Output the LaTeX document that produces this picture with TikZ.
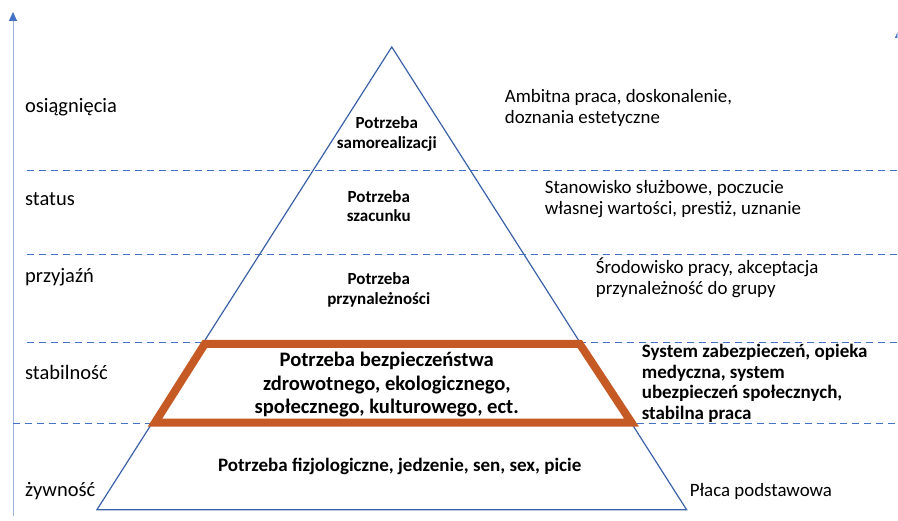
\documentclass[tikz,border=0pt]{standalone}
\usepackage{fontspec}
\setmainfont{Carlito}
\usetikzlibrary{arrows.meta}

\definecolor{pyrblue}{HTML}{4472C4}
\definecolor{axisblue}{HTML}{9DB5DD}
\definecolor{frameorange}{HTML}{C55A24}

\begin{document}
\begin{tikzpicture}[x=1pt, y=-1pt, every node/.style={font=\fontsize{18.9}{20.8}\selectfont, inner sep=0pt},
  level/.style={anchor=base west, font=\fontsize{20.5}{24}\selectfont},
  need/.style={align=center, font=\fontsize{17}{19.5}\selectfont\bfseries},
  note/.style={anchor=west, align=left},
  sep/.style={pyrblue, line width=1.1pt, dash pattern=on 7pt off 5pt},
  axistip/.style={-{Triangle[length=9pt, width=8pt, color=pyrblue, fill=pyrblue]}}]
	\begin{scope}
	\clip (0,0) rectangle (898,521);
	\useasboundingbox (0,0) rectangle (898,521);
	% axis
	\draw[axisblue, line width=0.9pt, axistip] (13,516) -- (13,12);
	\draw[axisblue, line width=0.9pt, axistip] (899.5,48) -- (899.5,29);
	\end{scope}
	% separating levels
	\draw[sep] (27,171) -- (898,171);
	\draw[sep] (27,255) -- (898,255);
	\draw[sep] (27,343) -- (898,343);
	\draw[sep] (13,424) -- (898,424);
	% pyramid
	\draw[pyrblue!85!black, line width=1.2pt, line join=miter] (392,47) -- (687,510) -- (97,510) -- cycle;
	\fill[white] (205,344) -- (580,344) -- (632,423) -- (155,423) -- cycle;
	\draw[frameorange, line width=8pt, line join=miter] (205,344) -- (580,344) -- (632,423) -- (155,423) -- cycle;
	% levels
	\node[level] (l1) at (25,112.5) {osiągnięcia};
	\node[level] (l2) at (25,206) {status};
	\node[level] (l3) at (25,283) {przyjaźń};
	\node[level] (l4) at (25,380) {stabilność};
	\node[level] (l5) at (25,497) {żywność};
	% needs
	\node[need] (n1) at (387,134) {Potrzeba\\samorealizacji};
	\node[need] (n2) at (379,206) {Potrzeba\\szacunku};
	\node[need] (n3) at (379,290) {Potrzeba\\przynależności};
	\node[need, font=\fontsize{20.6}{23.5}\selectfont\bfseries] (n4) at (387,385) {Potrzeba bezpieczeństwa\\zdrowotnego, ekologicznego,\\społecznego, kulturowego, ect.};
	\node[need, font=\fontsize{19}{21}\selectfont\bfseries] (n5) at (400,467) {Potrzeba fizjologiczne, jedzenie, sen, sex, picie};
	% examples
	\node[note] (e1) at (505,108) {Ambitna praca, doskonalenie,\\doznania estetyczne};
	\node[note] (e2) at (545,199.5) {Stanowisko służbowe, poczucie\\własnej wartości, prestiż, uznanie};
	\node[note] (e3) at (596,278) {Środowisko pracy, akceptacja\\przynależność do grupy};
	\node[note, font=\fontsize{19}{20.8}\selectfont\bfseries] (e4) at (642,383.5) {System zabezpieczeń, opieka\\medyczna, system\\ubezpieczeń społecznych,\\stabilna praca};
	\node[note, anchor=base west] (e5) at (690,497) {Płaca podstawowa};
\end{tikzpicture}
\end{document}
